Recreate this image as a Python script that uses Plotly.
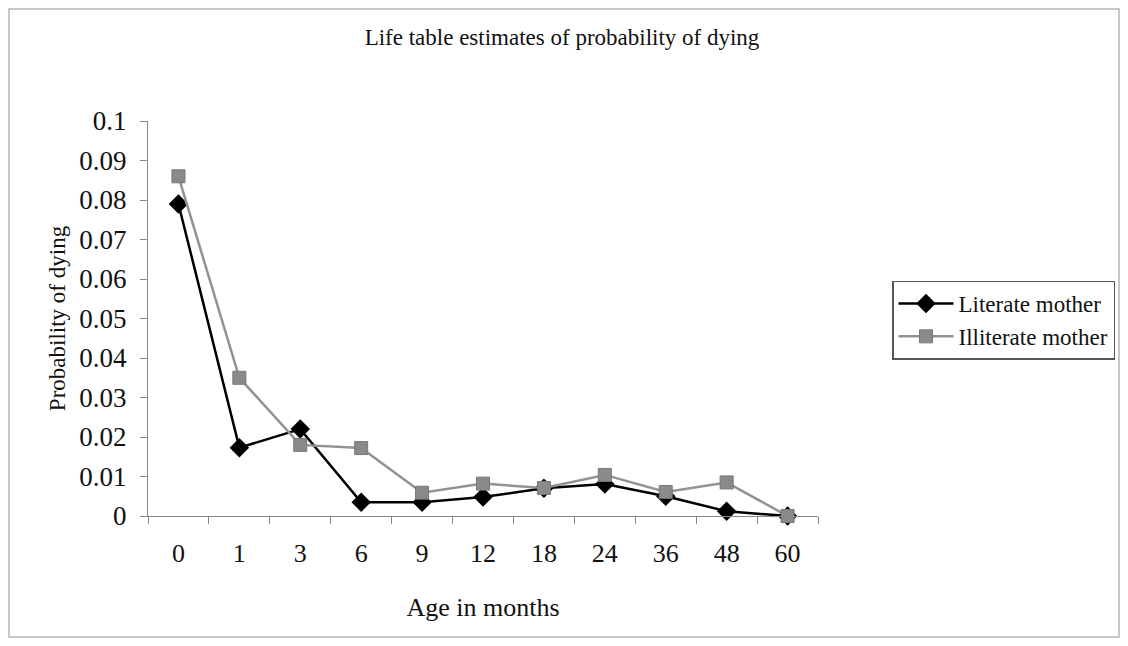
import plotly.graph_objects as go

ages = ["0", "1", "3", "6", "9", "12", "18", "24", "36", "48", "60"]
literate = [0.079, 0.0173, 0.022, 0.0035, 0.0035, 0.0048, 0.007, 0.0081, 0.005, 0.0012, 0.0]
illiterate = [0.086, 0.035, 0.0180, 0.0172, 0.0059, 0.0082, 0.0071, 0.0104, 0.0061, 0.0085, 0.0]
yticks = [0, 0.01, 0.02, 0.03, 0.04, 0.05, 0.06, 0.07, 0.08, 0.09, 0.1]
ytick_text = ["0", "0.01", "0.02", "0.03", "0.04", "0.05", "0.06", "0.07", "0.08", "0.09", "0.1"]

FONT = "Liberation Serif"
W, H = 1112, 630
L, R, T, B = 140, 302, 113, 122
PW, PH = W - L - R, H - T - B

fig = go.Figure()
fig.add_trace(go.Scatter(
    x=ages, y=literate, name="Literate mother", mode="lines+markers",
    line=dict(color="#000000", width=2.5),
    marker=dict(symbol="diamond", size=15, color="#000000"),
    cliponaxis=False,
))
fig.add_trace(go.Scatter(
    x=ages, y=illiterate, name="Illiterate mother", mode="lines+markers",
    line=dict(color="#929292", width=2.5),
    marker=dict(symbol="square", size=13, color="#8a8a8a", line=dict(color="#777777", width=1)),
    cliponaxis=False,
))

fig.update_layout(
    width=W, height=H,
    margin=dict(l=L, r=R, t=T, b=B, autoexpand=False),
    paper_bgcolor="white", plot_bgcolor="white",
    font=dict(family=FONT, color="#111111"),
    title=dict(text="Life table estimates of probability of dying", x=554 / W, xanchor="center",
               y=1 - 29 / H, yanchor="middle", font=dict(family=FONT, size=23, color="#111111")),
    showlegend=True,
    legend=dict(x=(884 - L) / PW, xanchor="left", y=(H - B - 312) / PH, yanchor="middle",
                bordercolor="#555555", borderwidth=1.5, bgcolor="white",
                font=dict(family=FONT, size=23, color="#111111"),
                tracegroupgap=0, itemwidth=55),
    xaxis=dict(
        type="category", tickson="boundaries", ticks="outside", ticklen=7,
        tickcolor="#888888", showline=True, linecolor="#888888", linewidth=1.2,
        showgrid=False, zeroline=False, ticklabelstandoff=14,
        tickfont=dict(family=FONT, size=26, color="#111111"),
        title=dict(text="Age in months", font=dict(family=FONT, size=26, color="#111111"), standoff=30),
        range=[-0.5, 10.5],
    ),
    yaxis=dict(
        range=[0, 0.1], tickvals=yticks, ticktext=ytick_text, ticks="outside", ticklen=7,
        tickcolor="#888888", showline=True, linecolor="#888888", linewidth=1.2,
        showgrid=False, zeroline=False, ticklabelstandoff=8,
        tickfont=dict(family=FONT, size=27, color="#111111"),
        title=dict(text="Probability of dying", font=dict(family=FONT, size=23, color="#111111"), standoff=7),
    ),
)

# outer chart frame
fig.add_shape(type="rect", xref="paper", yref="paper",
              x0=(1 - L) / PW, x1=(W - 1 - L) / PW,
              y0=(H - B - (H - 1)) / PH, y1=(H - B - 1) / PH,
              line=dict(color="#b5b5b5", width=1.5), layer="below")

fig.write_html("out.html")
